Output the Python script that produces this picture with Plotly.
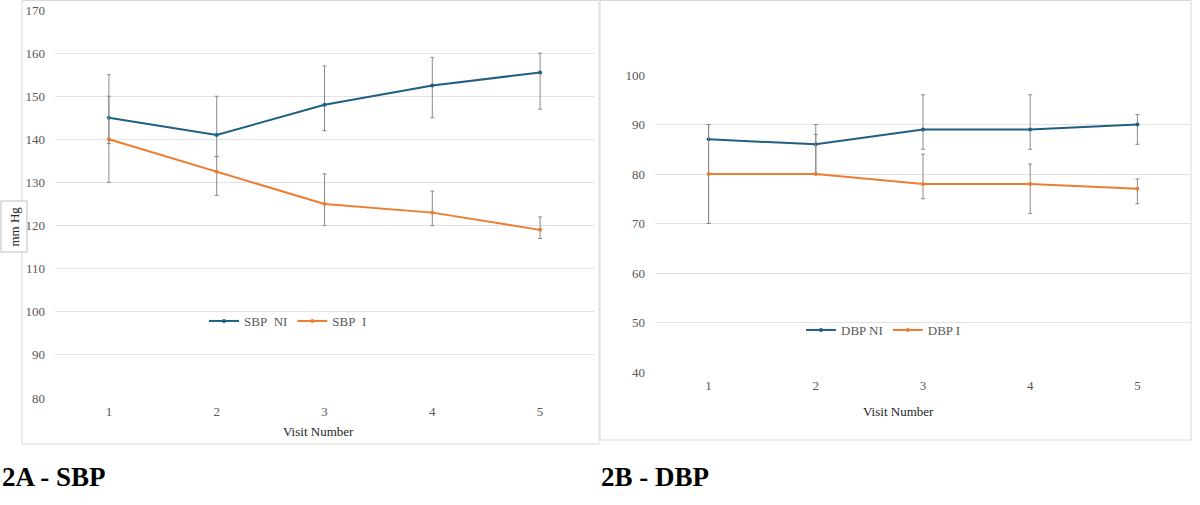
import plotly.graph_objects as go

# visit numbers shared by both panels
visits = [1, 2, 3, 4, 5]

# systolic blood pressure (mm Hg)
sbp_ni = [145, 141, 148, 152.5, 155.5]
sbp_ni_plus = [10, 9, 9, 6.5, 4.5]
sbp_ni_minus = [6, 5, 6, 7.5, 8.5]
sbp_i = [140, 132.5, 125, 123, 119]
sbp_i_plus = [10, 3.5, 7, 5, 3]
sbp_i_minus = [10, 5.5, 5, 3, 2]

# diastolic blood pressure (mm Hg)
dbp_ni = [87, 86, 89, 89, 90]
dbp_ni_plus = [3, 4, 7, 7, 2]
dbp_ni_minus = [17, 6, 4, 4, 4]
dbp_i = [80, 80, 78, 78, 77]
dbp_i_plus = [10, 8, 6, 4, 2]
dbp_i_minus = [10, 0, 3, 6, 3]

sbp_ticks = list(range(80, 171, 10))
dbp_ticks = list(range(40, 101, 10))

W, H = 1200, 505
BLUE = "#1f5f84"
ORANGE = "#ed7d31"
GRID = "#e3e3e3"
TXT = "#595959"
FONT = "Liberation Serif"


def px(x):
    return x / W


def py(y):
    return 1 - y / H


def series(x, y, plus, minus, name, color, xa, ya, legend):
    return go.Scatter(
        x=x,
        y=y,
        name=name,
        mode="lines+markers",
        line=dict(color=color, width=2),
        marker=dict(color=color, size=4),
        error_y=dict(
            type="data",
            symmetric=False,
            array=plus,
            arrayminus=minus,
            color="#8a8a8a",
            thickness=1,
            width=2,
        ),
        xaxis=xa,
        yaxis=ya,
        legend=legend,
    )


fig = go.Figure()
fig.add_trace(series(visits, sbp_ni, sbp_ni_plus, sbp_ni_minus, "SBP\u00a0 NI", BLUE, "x", "y", "legend"))
fig.add_trace(series(visits, sbp_i, sbp_i_plus, sbp_i_minus, "SBP\u00a0 I", ORANGE, "x", "y", "legend"))
fig.add_trace(series(visits, dbp_ni, dbp_ni_plus, dbp_ni_minus, "DBP NI", BLUE, "x2", "y2", "legend2"))
fig.add_trace(series(visits, dbp_i, dbp_i_plus, dbp_i_minus, "DBP I", ORANGE, "x2", "y2", "legend2"))

xcommon = dict(
    range=[0.5, 5.5],
    tickvals=visits,
    showgrid=False,
    zeroline=False,
    showline=False,
    automargin=False,
    ticklabelstandoff=4,
    tickfont=dict(family=FONT, size=13, color=TXT),
    fixedrange=True,
)
ycommon = dict(
    showgrid=True,
    gridcolor=GRID,
    gridwidth=1,
    zeroline=False,
    showline=False,
    automargin=False,
    ticklabelstandoff=9,
    tickfont=dict(family=FONT, size=13, color=TXT),
    fixedrange=True,
)

legend_style = dict(
    orientation="h",
    font=dict(family=FONT, size=13, color=TXT),
    bgcolor="rgba(0,0,0,0)",
    xanchor="left",
    yanchor="middle",
    itemwidth=30,
    tracegroupgap=0,
)


def label(text, x, y, size=13, color="#262626", xanchor="center", **kw):
    return dict(text=text, xref="paper", yref="paper", x=px(x), y=py(y), xanchor=xanchor,
                yanchor="middle", showarrow=False, font=dict(family=FONT, size=size, color=color), **kw)


fig.update_layout(
    width=W,
    height=H,
    margin=dict(l=0, r=0, t=0, b=0, pad=0, autoexpand=False),
    paper_bgcolor="white",
    plot_bgcolor="white",
    font=dict(family=FONT),
    xaxis=dict(domain=[px(55), px(594)], anchor="y", **xcommon),
    yaxis=dict(domain=[py(398), py(10)], anchor="x", range=[80, 170], tickvals=sbp_ticks, **ycommon),
    xaxis2=dict(domain=[px(655), px(1191)], anchor="y2", **xcommon),
    yaxis2=dict(domain=[py(372), py(75)], anchor="x2", range=[40, 100], tickvals=dbp_ticks, **ycommon),
    legend=dict(x=px(204), y=py(321), **legend_style),
    legend2=dict(x=px(801), y=py(330), **legend_style),
    shapes=[
        # chart area borders
        dict(type="rect", xref="paper", yref="paper", x0=px(22), x1=px(599), y0=py(444), y1=py(0.5),
             line=dict(color="#d9d9d9", width=1)),
        dict(type="rect", xref="paper", yref="paper", x0=px(600), x1=px(1191), y0=py(440), y1=py(0.5),
             line=dict(color="#d9d9d9", width=1)),
    ],
    annotations=[
        label("Visit Number", 318, 431),
        label("Visit Number", 898, 411),
        label("mm Hg", 1, 227, xanchor="left", textangle=-90, bordercolor="#bfbfbf",
              borderwidth=1, borderpad=5, bgcolor="white"),
        label("<b>2A - SBP</b>", 0, 477, size=27, color="black", xanchor="left"),
        label("<b>2B - DBP</b>", 599, 477, size=27, color="black", xanchor="left"),
    ],
)

# pin the figure to the window origin with no page margin around it
pin = (
    "var d=document.getElementById('{plot_id}');"
    "d.style.position='fixed';d.style.top='0';d.style.left='0';"
    "document.body.style.margin='0';document.body.style.overflow='hidden';"
)
fig.write_html("out.html", config={"displayModeBar": False}, post_script=pin)
